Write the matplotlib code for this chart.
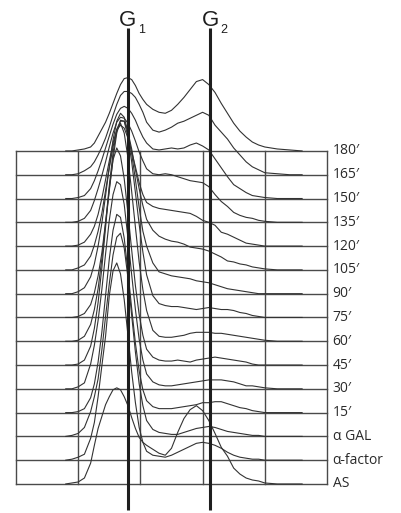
import numpy as np
import matplotlib
matplotlib.use("Agg")
import matplotlib.pyplot as plt

# DNA-content channels shared by every histogram
channels = [40, 45, 50, 55, 60, 63, 66, 69, 72, 75, 78, 81, 84, 87, 90, 93, 96, 99,
            102, 105, 110, 115, 120, 125, 130, 135, 140, 145, 150, 155, 160, 165,
            170, 175, 180, 185, 190, 195, 200, 210, 220, 230]

# row labels, bottom to top
row_labels = ["AS", "α-factor", "α GAL", "15′", "30′", "45′", "60′", "75′",
              "90′", "105′", "120′", "135′", "150′", "165′", "180′"]

# cell counts per channel for each sample
hist_as = [0, 1, 2, 6, 21, 39, 56, 68, 80, 88, 95, 97, 95, 88, 79, 67, 56, 47, 42, 39,
           35, 31, 29, 36, 52, 66, 75, 79, 74, 64, 51, 37, 28, 16, 10, 6, 4, 3, 1, 0, 0, 0]
hist_alpha = [0, 1, 3, 6, 22, 38, 64, 95, 125, 166, 191, 199, 188, 162, 126, 89, 58, 33, 18, 9,
              5, 4, 3, 5, 8, 11, 14, 17, 18, 17, 15, 12, 8, 5, 3, 2, 1, 1, 0, 0, 0, 0]
hist_alpha_gal = [0, 1, 3, 9, 25, 40, 58, 87, 121, 154, 183, 201, 205, 190, 160, 122, 85, 53, 31, 16,
                  7, 4, 3, 2, 2, 4, 6, 8, 9, 10, 9, 7, 5, 4, 3, 2, 1, 1, 0, 0, 0, 0]
hist_15 = [0, 0, 1, 4, 15, 29, 51, 81, 118, 155, 184, 200, 197, 176, 142, 105, 70, 42, 23, 12,
           6, 4, 4, 4, 5, 6, 7, 8, 10, 10, 11, 11, 9, 7, 5, 4, 2, 1, 0, 0, 0, 0]
hist_30 = [0, 0, 2, 6, 25, 44, 69, 100, 136, 170, 196, 209, 206, 186, 152, 115, 80, 50, 29, 15,
           7, 4, 3, 3, 4, 5, 6, 7, 8, 9, 9, 9, 8, 7, 5, 3, 3, 2, 1, 0, 0, 0]
hist_45 = [0, 0, 1, 5, 19, 37, 63, 98, 139, 178, 207, 219, 211, 188, 153, 116, 80, 51, 30, 16,
           8, 5, 4, 4, 5, 4, 3, 5, 6, 7, 8, 7, 6, 5, 4, 3, 1, 0, 0, 0, 0, 0]
hist_60 = [0, 0, 1, 5, 17, 32, 53, 83, 119, 157, 190, 213, 220, 210, 185, 151, 115, 80, 52, 31,
           11, 5, 4, 4, 5, 6, 8, 9, 9, 9, 8, 8, 7, 6, 5, 4, 3, 2, 1, 0, 0, 0]
hist_75 = [0, 0, 1, 4, 13, 25, 42, 65, 96, 128, 160, 186, 199, 198, 182, 157, 126, 94, 66, 43,
           22, 14, 12, 11, 11, 10, 9, 8, 9, 10, 9, 8, 8, 7, 5, 4, 2, 1, 0, 0, 0, 0]
hist_90 = [0, 0, 2, 6, 17, 30, 48, 71, 99, 128, 155, 174, 182, 178, 163, 141, 115, 87, 63, 48,
           31, 22, 20, 18, 17, 16, 15, 13, 12, 11, 9, 7, 5, 4, 3, 2, 1, 0, 0, 0, 0, 0]
hist_105 = [0, 0, 2, 5, 14, 25, 39, 57, 80, 103, 124, 142, 150, 150, 139, 122, 101, 82, 65, 51,
            40, 34, 31, 29, 28, 26, 23, 22, 21, 19, 16, 13, 9, 8, 6, 5, 3, 2, 1, 0, 0, 0]
hist_120 = [0, 0, 1, 4, 12, 20, 32, 48, 67, 86, 104, 117, 122, 119, 109, 95, 80, 64, 52, 44,
            40, 38, 37, 36, 35, 34, 33, 30, 26, 24, 21, 14, 12, 9, 6, 3, 2, 1, 0, 0, 0, 0]
hist_135 = [0, 0, 1, 4, 12, 22, 34, 47, 61, 76, 90, 101, 106, 105, 100, 92, 82, 71, 62, 54,
            49, 48, 49, 48, 46, 44, 42, 41, 40, 36, 28, 21, 16, 10, 7, 5, 4, 2, 1, 0, 0, 0]
hist_150 = [0, 0, 1, 3, 10, 18, 28, 39, 51, 63, 75, 85, 91, 93, 91, 86, 79, 70, 62, 56,
            50, 49, 50, 51, 50, 51, 54, 56, 53, 49, 40, 31, 22, 14, 10, 6, 3, 2, 1, 0, 0, 0]
hist_165 = [0, 0, 1, 4, 8, 13, 20, 28, 37, 48, 60, 71, 80, 84, 84, 82, 78, 71, 63, 53,
            45, 43, 45, 48, 52, 54, 57, 60, 63, 60, 50, 43, 36, 27, 20, 13, 8, 5, 2, 1, 0, 0]
hist_180 = [0, 0, 1, 2, 4, 8, 15, 22, 29, 38, 48, 58, 67, 73, 74, 72, 66, 58, 52, 47,
            42, 39, 38, 41, 47, 54, 62, 70, 72, 67, 59, 48, 38, 28, 20, 14, 9, 6, 4, 2, 1, 0]

histograms = [hist_as, hist_alpha, hist_alpha_gal, hist_15, hist_30, hist_45, hist_60,
              hist_75, hist_90, hist_105, hist_120, hist_135, hist_150, hist_165, hist_180]

# reference positions of the G1 and G2 peaks (channels)
g1_channel = 90
g2_channel = 156

ROW_STEP = 24          # vertical offset between stacked histograms (counts)
X_MAX = 250            # right edge of the frame (channels)
GRID_X = [0, 50, 100, 150, 200, 250]

fig = plt.figure(figsize=(4.01, 5.13), dpi=100)
ax = fig.add_axes([0, 0, 1, 1])
ax.set_xlim(-12.86, 309.5)
ax.set_ylim(-29.3, 488.3)
ax.axis("off")

n_rows = len(row_labels)
top = (n_rows - 1) * ROW_STEP
grid_color = "#4a4a4a"

# frame and grid
for i in range(n_rows):
    ax.plot([0, X_MAX], [i * ROW_STEP, i * ROW_STEP], color=grid_color, lw=1.0, zorder=1)
for gx in GRID_X:
    ax.plot([gx, gx], [0, top], color=grid_color, lw=1.0, zorder=1)

# stacked histograms
x = np.array(channels, dtype=float)
for i, counts in enumerate(histograms):
    y = i * ROW_STEP + np.array(counts, dtype=float)
    ax.plot(x, y, color="#333333", lw=0.8, zorder=2, solid_joinstyle="round")

# row labels
for i, lab in enumerate(row_labels):
    ax.text(254.5, i * ROW_STEP, lab, fontsize=10, family="Open Sans",
            color="#2a2a2a", ha="left", va="center")

# G1 / G2 reference lines
for gx, sub in [(g1_channel, "1"), (g2_channel, "2")]:
    ax.plot([gx, gx], [-26.2, 460], color="#1e1e1e", lw=2.2, zorder=4,
            solid_capstyle="butt")
    ax.text(gx, 462.5, "G", fontsize=16, family="Liberation Sans",
            color="#1e1e1e", ha="center", va="baseline")
    ax.text(gx + 8.2, 454.5, sub, fontsize=9, family="Liberation Sans",
            color="#1e1e1e", ha="left", va="baseline")

fig.savefig("out.png", dpi=100)
